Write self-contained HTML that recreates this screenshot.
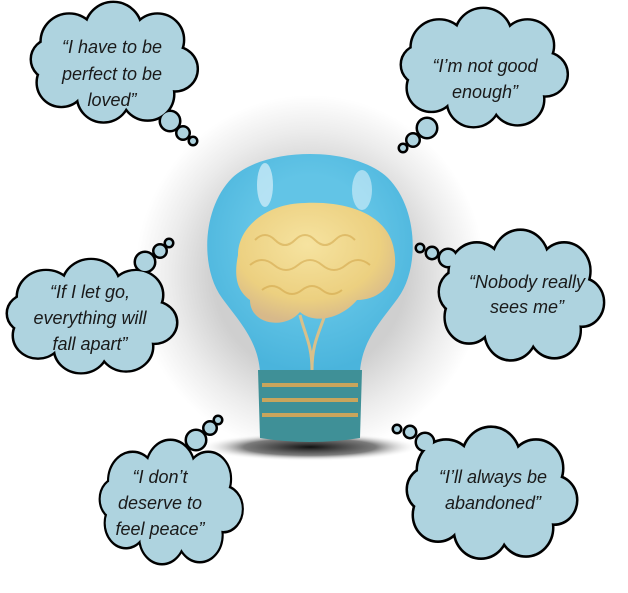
<!DOCTYPE html>
<html><head><meta charset="utf-8"><style>
html,body{margin:0;padding:0;background:#fff;}
svg{display:block}
text{font-family:"Liberation Sans",sans-serif;font-style:italic;font-size:18px;fill:#1a1a1a;text-anchor:middle}
</style></head><body>
<svg width="628" height="593" viewBox="0 0 628 593" xmlns="http://www.w3.org/2000/svg">
<defs>
<g id="cl">
<ellipse cx="85" cy="62" rx="62" ry="38"/>
<circle cx="40" cy="40" r="28"/><circle cx="85" cy="28" r="28"/><circle cx="130" cy="38" r="26"/>
<circle cx="148" cy="68" r="22"/><circle cx="120" cy="94" r="26"/><circle cx="75" cy="96" r="26"/>
<circle cx="32" cy="82" r="24"/><circle cx="22" cy="58" r="20"/>
</g>
<radialGradient id="glow" cx="50%" cy="50%" r="50%">
<stop offset="0.55" stop-color="#cfcfcf"/><stop offset="0.8" stop-color="#ececec"/><stop offset="1" stop-color="#fff"/>
</radialGradient>
<radialGradient id="glass" cx="50%" cy="40%" r="60%">
<stop offset="0.5" stop-color="#62c4e6"/><stop offset="1" stop-color="#4ab4dc"/>
</radialGradient>
<radialGradient id="brain" cx="45%" cy="35%" r="65%">
<stop offset="0" stop-color="#f6e3a0"/><stop offset="0.7" stop-color="#ecd080"/><stop offset="1" stop-color="#d7b98a"/>
</radialGradient>
<radialGradient id="shadow" cx="50%" cy="50%" r="50%">
<stop offset="0" stop-color="#111"/><stop offset="0.6" stop-color="#444" stop-opacity=".7"/><stop offset="1" stop-color="#fff" stop-opacity="0"/>
</radialGradient>
</defs>

<ellipse cx="310" cy="275" rx="175" ry="180" fill="url(#glow)"/>
<ellipse cx="310" cy="447" rx="110" ry="14" fill="url(#shadow)"/>
<path d="M260,372 C258,340 238,320 222,298 C200,268 202,208 232,178 C265,146 355,146 388,178 C418,208 420,268 398,298 C382,320 362,340 360,372 Z" fill="url(#glass)"/>
<ellipse cx="265" cy="185" rx="8" ry="22" fill="#d8f0fa" opacity=".7"/>
<ellipse cx="362" cy="190" rx="10" ry="20" fill="#d8f0fa" opacity=".6"/>
<path d="M300,315 C305,335 312,345 312,370 M325,315 C318,335 312,345 312,370" stroke="#d8c08a" stroke-width="3" fill="none"/>
<path d="M238,255 C238,225 270,203 305,203 C345,201 388,213 394,250 C400,280 382,300 357,300 C342,318 315,325 300,312 C285,330 250,325 250,300 C236,290 234,275 238,255 Z" fill="url(#brain)"/>
<path d="M255,240 q10,-10 20,0 t20,0 t20,0 t20,0 t20,0 M250,265 q12,-10 24,0 t24,0 t24,0 t24,0 t24,0 M262,290 q10,-8 20,0 t20,0 t20,0 t20,0" stroke="#c9983a" stroke-width="2" fill="none" opacity=".45"/>
<path d="M258,370 L362,370 L360,438 Q310,446 260,438 Z" fill="#3f9097"/>
<rect x="262" y="383" width="96" height="4" fill="#c9a55c"/>
<rect x="262" y="398" width="96" height="4" fill="#c9a55c"/>
<rect x="262" y="413" width="96" height="4" fill="#c9a55c"/>

<g stroke="#000" stroke-width="5" fill="#000">
<use href="#cl" transform="translate(30,3) scale(0.98,0.97)"/>
<use href="#cl" transform="translate(400,9) scale(0.98,0.96)"/>
<use href="#cl" transform="translate(438,231) scale(0.97,1.05)"/>
<use href="#cl" transform="translate(6,260) scale(1.0,0.92)"/>
<use href="#cl" transform="translate(99,441) scale(0.84,1.0)"/>
<use href="#cl" transform="translate(406,428) scale(1.0,1.06)"/>
<circle cx="170" cy="121" r="9"/><circle cx="183" cy="133" r="5.5"/><circle cx="193" cy="141" r="3"/>
<circle cx="427" cy="128" r="9"/><circle cx="413" cy="140" r="5.5"/><circle cx="403" cy="148" r="3"/>
<circle cx="448" cy="258" r="8"/><circle cx="432" cy="253" r="5"/><circle cx="420" cy="248" r="3"/>
<circle cx="145" cy="262" r="9"/><circle cx="160" cy="251" r="5.5"/><circle cx="169" cy="243" r="3"/>
<circle cx="196" cy="440" r="9"/><circle cx="210" cy="428" r="5.5"/><circle cx="218" cy="420" r="3"/>
<circle cx="425" cy="442" r="8"/><circle cx="410" cy="432" r="5"/><circle cx="397" cy="429" r="3"/>
</g>
<g fill="#aed3df" stroke="none">
<use href="#cl" transform="translate(30,3) scale(0.98,0.97)"/>
<use href="#cl" transform="translate(400,9) scale(0.98,0.96)"/>
<use href="#cl" transform="translate(438,231) scale(0.97,1.05)"/>
<use href="#cl" transform="translate(6,260) scale(1.0,0.92)"/>
<use href="#cl" transform="translate(99,441) scale(0.84,1.0)"/>
<use href="#cl" transform="translate(406,428) scale(1.0,1.06)"/>
<circle cx="170" cy="121" r="9"/><circle cx="183" cy="133" r="5.5"/><circle cx="193" cy="141" r="3"/>
<circle cx="427" cy="128" r="9"/><circle cx="413" cy="140" r="5.5"/><circle cx="403" cy="148" r="3"/>
<circle cx="448" cy="258" r="8"/><circle cx="432" cy="253" r="5"/><circle cx="420" cy="248" r="3"/>
<circle cx="145" cy="262" r="9"/><circle cx="160" cy="251" r="5.5"/><circle cx="169" cy="243" r="3"/>
<circle cx="196" cy="440" r="9"/><circle cx="210" cy="428" r="5.5"/><circle cx="218" cy="420" r="3"/>
<circle cx="425" cy="442" r="8"/><circle cx="410" cy="432" r="5"/><circle cx="397" cy="429" r="3"/>
</g>

<text x="112" y="53">“I have to be</text>
<text x="112" y="80">perfect to be</text>
<text x="112" y="106">loved”</text>
<text x="485" y="72">“I’m not good</text>
<text x="485" y="98">enough”</text>
<text x="527" y="288">“Nobody really</text>
<text x="527" y="313">sees me”</text>
<text x="90" y="298">“If I let go,</text>
<text x="90" y="324">everything will</text>
<text x="90" y="350">fall apart”</text>
<text x="160" y="483">“I don’t</text>
<text x="160" y="509">deserve to</text>
<text x="160" y="535">feel peace”</text>
<text x="493" y="483">“I’ll always be</text>
<text x="493" y="509">abandoned”</text>
</svg>
</body></html>
